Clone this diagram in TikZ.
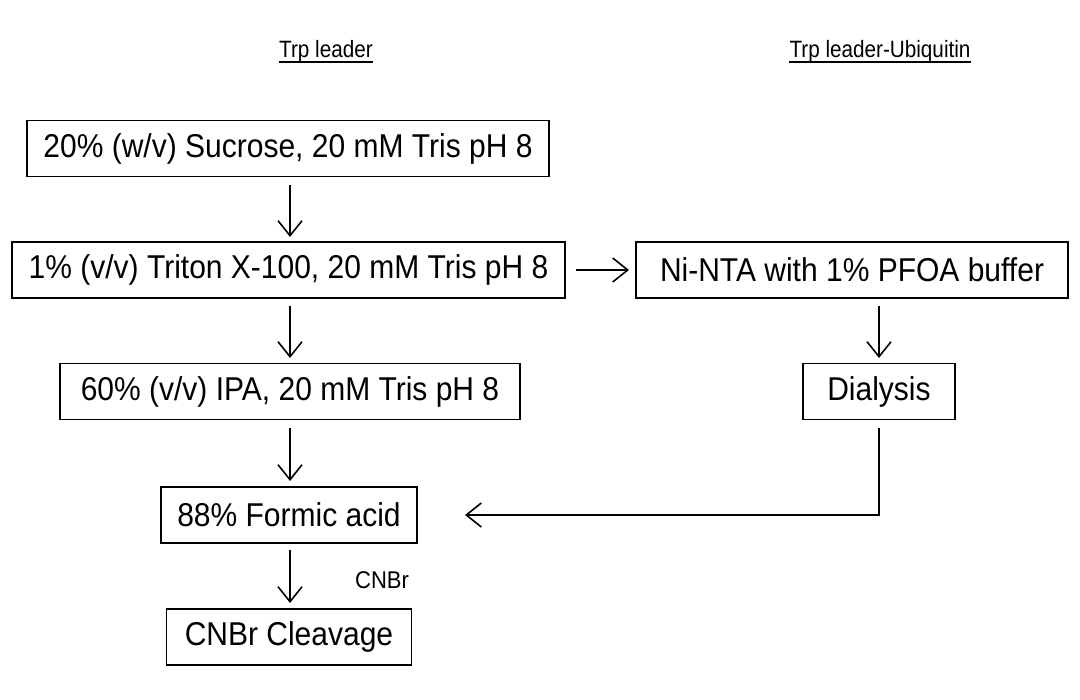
\documentclass[tikz,border=0pt]{standalone}
\usepackage{fontspec}
\usepackage{graphicx}
\setmainfont{Liberation Sans}
\usetikzlibrary{arrows.meta}
\newcommand\tallt[1]{\scalebox{1}[1.1]{#1}}
\newcommand\hdrt[1]{\scalebox{0.92}[1.05]{#1}}
\begin{document}
\begin{tikzpicture}[x=1pt,y=-1pt,
  box/.style={draw, line width=1.5pt, minimum height=56pt, inner sep=0pt,
    font=\fontsize{30}{36}\selectfont},
  arr/.style={line width=1.6pt, -{Straight Barb[length=15pt,width=24pt,line width=1.6pt]}},
  hdr/.style={inner sep=0pt, font=\fontsize{22.5}{27}\selectfont},
  lbl/.style={inner sep=0pt, font=\fontsize{22}{26}\selectfont, anchor=west}]
\useasboundingbox (0,0) rectangle (1080,700);
% headers
\node[hdr] (h1) at (326,51) {\hdrt{Trp leader}};
\node[hdr] (h2) at (880,51) {\hdrt{Trp leader-Ubiquitin}};
\draw[line width=1.8pt] ([yshift=-4.5pt]h1.base west) -- ([yshift=-4.5pt]h1.base east);
\draw[line width=1.8pt] ([yshift=-4.5pt]h2.base west) -- ([yshift=-4.5pt]h2.base east);
% boxes
\node[box, minimum width=522pt] (b1) at (288,148.5) {\tallt{20\% (w/v) Sucrose, 20 mM Tris pH 8}};
\node[box, minimum width=553pt] (b2) at (288.5,270) {\tallt{1\% (v/v) Triton X-100, 20 mM Tris pH 8}};
\node[box, minimum width=432pt] (b3) at (852,270) {\tallt{Ni-NTA with 1\% PFOA buffer}};
\node[box, minimum width=460pt] (b5) at (290,391.5) {\tallt{60\% (v/v) IPA, 20 mM Tris pH 8}};
\node[box, minimum width=152pt] (b4) at (879,391.5) {\tallt{Dialysis}};
\node[box, minimum width=256pt] (b6) at (289,515) {\tallt{88\% Formic acid}};
\node[box, minimum width=245pt] (b7) at (289,637) {\tallt{CNBr Cleavage}};
% arrows
\coordinate (c1) at (290,185);
\coordinate (c2) at (290,237);
\draw[arr] (c1) -- (c2);
\coordinate (c3) at (290,306);
\coordinate (c4) at (290,358);
\draw[arr] (c3) -- (c4);
\coordinate (c5) at (290,428);
\coordinate (c6) at (290,481);
\draw[arr] (c5) -- (c6);
\coordinate (c7) at (290,550);
\coordinate (c8) at (290,603);
\draw[arr] (c7) -- (c8);
\coordinate (r1) at (576,270);
\coordinate (r2) at (629,270);
\draw[arr] (r1) -- (r2);
\coordinate (d1) at (879,306);
\coordinate (d2) at (879,358);
\draw[arr] (d1) -- (d2);
\coordinate (e1) at (879,428);
\coordinate (e2) at (879,515);
\coordinate (e3) at (465,515);
\draw[arr] (e1) -- (e2) -- (e3);
\node[lbl] (cnbr) at (355,580) {\tallt{CNBr}};
\end{tikzpicture}
\end{document}
